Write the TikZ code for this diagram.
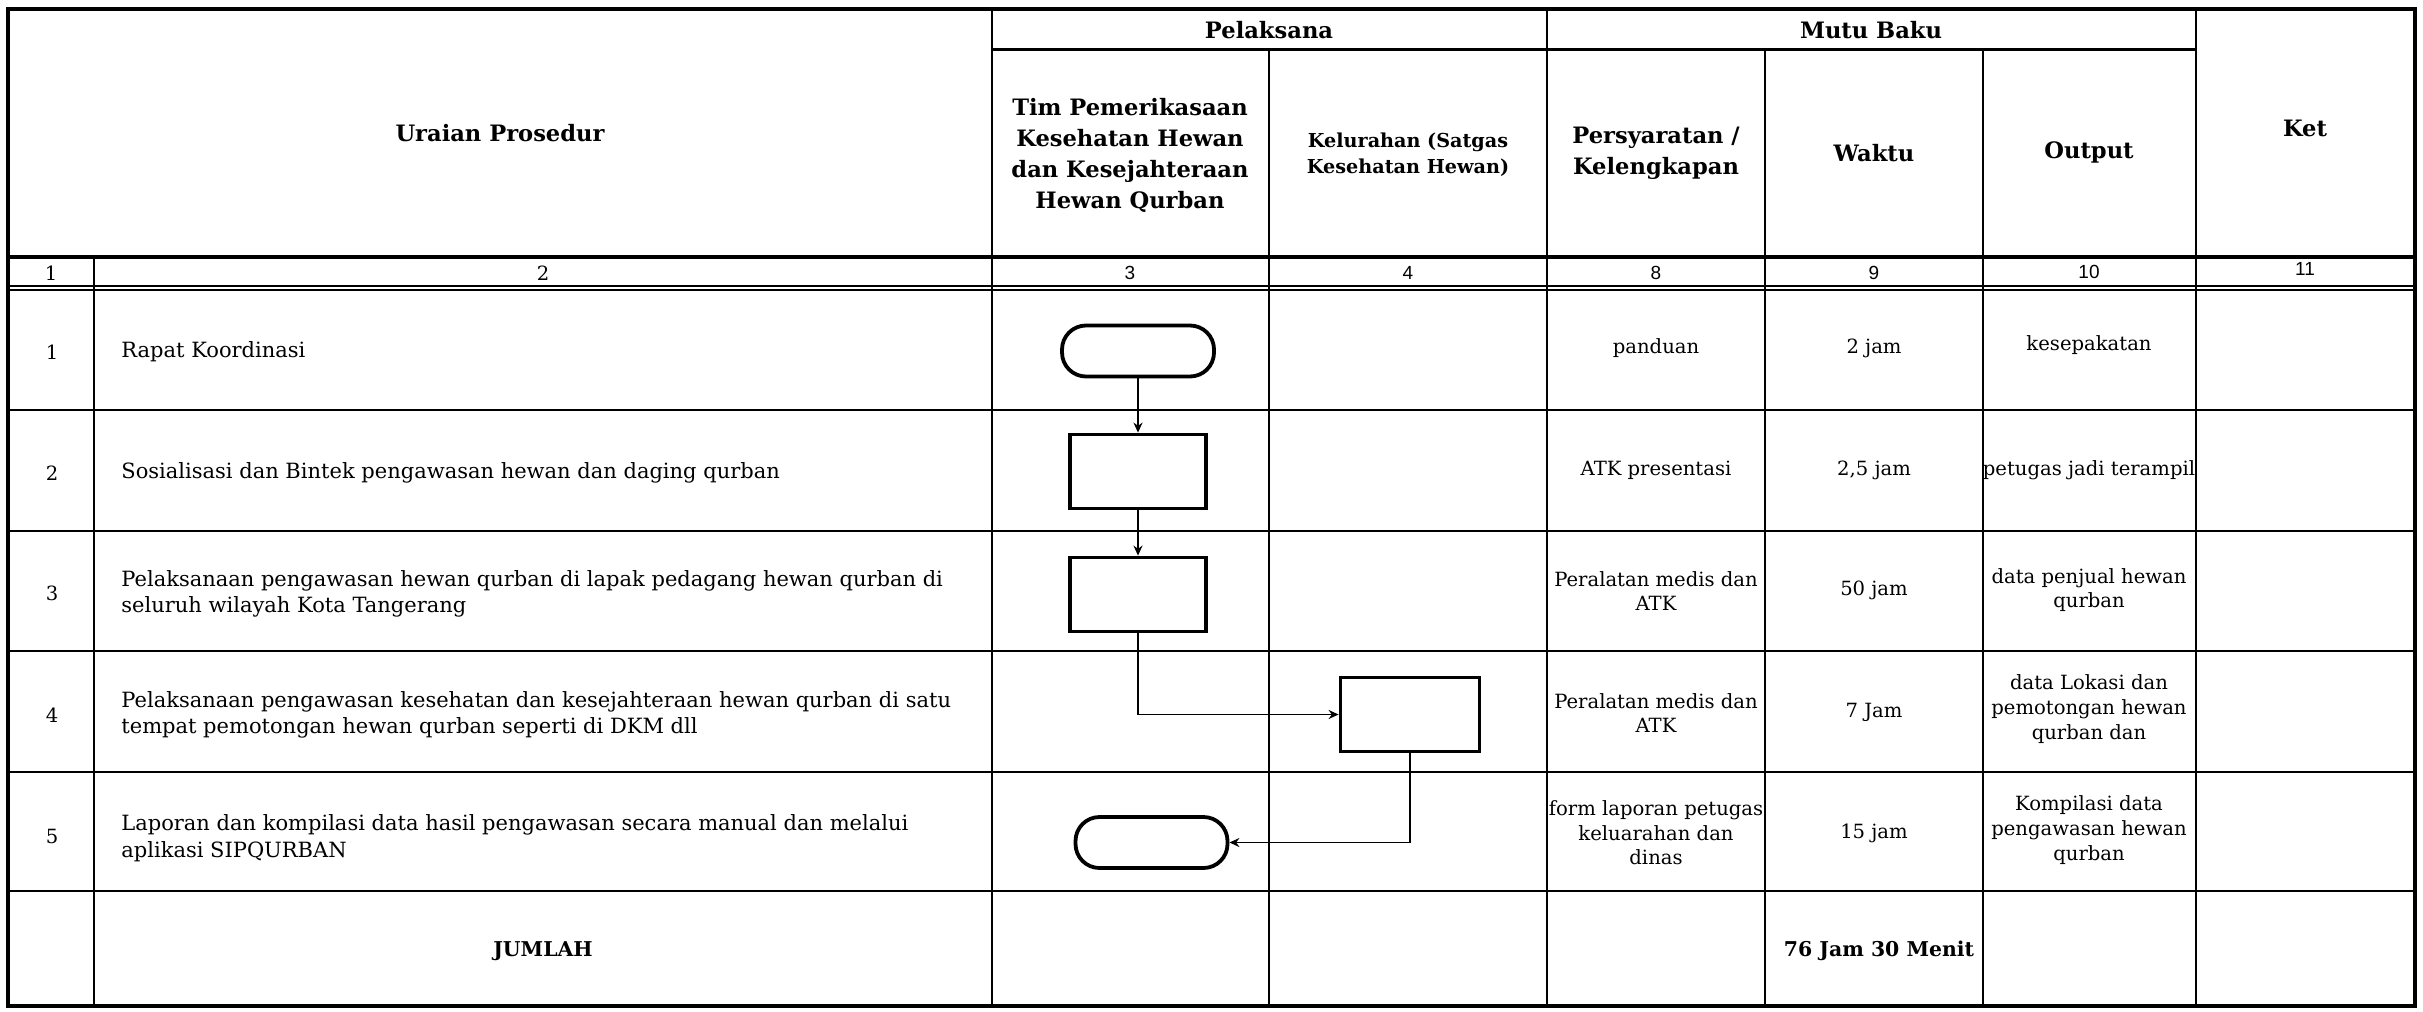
\documentclass[tikz,border=0pt]{standalone}
\usepackage{fontspec}
\setmainfont{DejaVu Serif}
\newfontfamily\numsans{Liberation Sans}
\usetikzlibrary{arrows.meta}
\begin{document}
\begin{tikzpicture}[x=0.5pt,y=-0.5pt,
  gridline/.style={line width=1.3pt},
  heavyline/.style={line width=2pt},
  thinline/.style={line width=0.9pt},
  hdr/.style={font=\bfseries\fontsize{11.3}{15.5}\selectfont, align=center, inner sep=0pt},
  hdrsmall/.style={font=\bfseries\fontsize{9.6}{13}\selectfont, align=center, inner sep=0pt},
  numtxt/.style={font=\numsans\fontsize{9.5}{11}\selectfont, inner sep=0pt},
  numserif/.style={font=\fontsize{9.8}{11}\selectfont, inner sep=0pt},
  proc/.style={font=\fontsize{10.5}{13.3}\selectfont, align=left, anchor=west, inner sep=0pt},
  celltxt/.style={font=\fontsize{9.8}{12.3}\selectfont, align=center, inner sep=0pt},
  sumtxt/.style={font=\bfseries\fontsize{10.2}{12}\selectfont, inner sep=0pt},
  flowbox/.style={draw, line width=1.9pt, fill=white, inner sep=0pt},
  procbox/.style={flowbox, minimum width=68pt, minimum height=37pt},
  termbox/.style={flowbox, minimum width=76pt, minimum height=25.5pt, rounded corners=12pt},
  flowarrow/.style={line width=0.9pt, -{Stealth[length=5pt,width=4.5pt]}}
]
\useasboundingbox (0,0) rectangle (2423,1011);
\fill[white] (0,0) rectangle (2423,1011);

% ---------- table grid ----------
\draw[line width=1.8pt] (8,9) rectangle (2415,1006);
\draw[line width=1.5pt] (992,50) -- (2196,50);
\draw[heavyline] (8,257) -- (2415,257);
\draw[thinline] (8,286) -- (2415,286);
\draw[thinline] (8,290) -- (2415,290);
\foreach \yy in {410,531,651,772,891}{
  \draw[gridline] (8,\yy) -- (2415,\yy);
}
\draw[gridline] (94,257) -- (94,1006);
\draw[gridline] (992,9) -- (992,1006);
\draw[gridline] (1269,50) -- (1269,1006);
\draw[gridline] (1547,9) -- (1547,1006);
\draw[gridline] (1765,50) -- (1765,1006);
\draw[gridline] (1983,50) -- (1983,1006);
\draw[gridline] (2196,9) -- (2196,1006);

% ---------- header ----------
\node[hdr] (hUraian) at (500,133) {Uraian Prosedur};
\node[hdr] (hPel) at (1269,30) {Pelaksana};
\node[hdr] (hMutu) at (1871,30) {Mutu Baku};
\node[hdr] (hKet) at (2305,128) {Ket};
\node[hdr] (hTim) at (1130,155) {Tim Pemerikasaan\\Kesehatan Hewan\\dan Kesejahteraan\\Hewan Qurban};
\node[hdrsmall] (hKel) at (1408,155) {Kelurahan (Satgas\\Kesehatan Hewan)};
\node[hdr] (hPers) at (1656,153) {Persyaratan /\\Kelengkapan};
\node[hdr] (hWaktu) at (1874,153) {Waktu};
\node[hdr] (hOut) at (2089,152) {Output};

% ---------- number row ----------
\node[numserif] (n1) at (51,273) {1};
\node[numserif] (n2) at (543,273) {2};
\node[numtxt] (n3) at (1130,273) {3};
\node[numtxt] (n4) at (1408,273) {4};
\node[numtxt] (n8) at (1656,273) {8};
\node[numtxt] (n9) at (1874,273) {9};
\node[numtxt] (n10) at (2089,272) {10};
\node[numtxt] (n11) at (2305,269) {11};

% ---------- row numbers ----------
\node[numserif] (r1n) at (52,352) {1};
\node[numserif] (r2n) at (52,473) {2};
\node[numserif] (r3n) at (52,593) {3};
\node[numserif] (r4n) at (52,715) {4};
\node[numserif] (r5n) at (52,836) {5};

% ---------- procedures ----------
\node[proc] (p1) at (121,352) {Rapat Koordinasi};
\node[proc] (p2) at (121,473) {Sosialisasi dan Bintek pengawasan hewan dan daging qurban};
\node[proc] (p3) at (121,594) {Pelaksanaan pengawasan hewan qurban di lapak pedagang hewan qurban di\\seluruh wilayah Kota Tangerang};
\node[proc] (p4) at (121,715) {Pelaksanaan pengawasan kesehatan dan kesejahteraan hewan qurban di satu\\tempat pemotongan hewan qurban seperti di DKM dll};
\node[proc] (p5) at (121,838) {Laporan dan kompilasi data hasil pengawasan secara manual dan melalui\\aplikasi SIPQURBAN};
\node[sumtxt] (jml) at (543,951) {JUMLAH};

% ---------- mutu baku cells ----------
\node[celltxt] (c81) at (1656,348) {panduan};
\node[celltxt] (c91) at (1874,348) {2 jam};
\node[celltxt] (c101) at (2089,345) {kesepakatan};
\node[celltxt] (c82) at (1656,470) {ATK presentasi};
\node[celltxt] (c92) at (1874,470) {2,5 jam};
\node[celltxt] (c102) at (2089,470) {petugas jadi terampil};
\node[celltxt] (c83) at (1656,591) {Peralatan medis dan\\ATK};
\node[celltxt] (c93) at (1874,590) {50 jam};
\node[celltxt] (c103) at (2089,590) {data penjual hewan\\qurban};
\node[celltxt] (c84) at (1656,713) {Peralatan medis dan\\ATK};
\node[celltxt] (c94) at (1874,712) {7 Jam};
\node[celltxt] (c104) at (2089,709) {data Lokasi dan\\pemotongan hewan\\qurban dan};
\node[celltxt] (c85) at (1656,833) {form laporan petugas\\keluarahan dan\\dinas};
\node[celltxt] (c95) at (1874,833) {15 jam};
\node[celltxt] (c105) at (2089,830) {Kompilasi data\\pengawasan hewan\\qurban};
\node[sumtxt] (tot) at (1879,951) {76 Jam 30 Menit};

% ---------- flowchart ----------
\node[termbox] (t1) at (1138,351) {};
\node[procbox] (b2) at (1138,471.5) {};
\node[procbox] (b3) at (1138,594.5) {};
\node[procbox, minimum width=69.5pt] (b4) at (1410,714.5) {};
\node[termbox] (t2) at (1151.5,842.5) {};

\draw[flowarrow] (t1) -- (b2);
\draw[flowarrow] (b2) -- (b3);
\draw[flowarrow] (b3.south) |- (b4.west);
\draw[flowarrow] (b4.south) |- (t2.east);
\end{tikzpicture}
\end{document}
